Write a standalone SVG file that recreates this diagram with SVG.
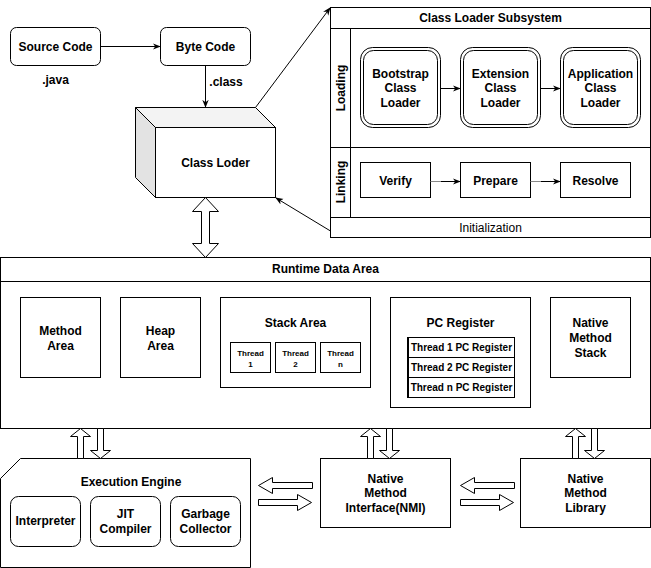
<svg xmlns="http://www.w3.org/2000/svg" width="651" height="568" viewBox="0 0 651 568">
  <defs>
    <marker id="arrow" viewBox="0 0 10 10" refX="9" refY="5" markerWidth="8" markerHeight="8" markerUnits="userSpaceOnUse" orient="auto">
      <path d="M0,1 L10,5 L0,9 L3,5 Z" fill="#000"/>
    </marker>
    <style>
      text { font-family: "Liberation Sans", Arial, Helvetica, sans-serif; font-size: 12px; fill: #000; text-anchor: middle; }
      .b { font-weight: bold; }
      .sm { font-size: 10px; font-weight: bold; }
      .xs { font-size: 8px; font-weight: bold; }
      .box { fill: #fff; stroke: #000; stroke-width: 1; }
      .line { fill: none; stroke: #000; stroke-width: 1; }
      .blk { fill: #fff; stroke: #000; stroke-width: 1; stroke-linejoin: miter; }
    </style>
  </defs>

  <rect width="651" height="568" fill="#fff"/>

  <!-- Source and byte code -->
  <g id="source-code">
    <rect class="box" x="10.5" y="27.5" width="90" height="38" rx="6"/>
    <text class="b" x="55.5" y="51">Source Code</text>
    <text class="b" x="55.5" y="84">.java</text>
  </g>
  <g id="byte-code">
    <rect class="box" x="160.5" y="27.5" width="90" height="38" rx="6"/>
    <text class="b" x="205.5" y="51">Byte Code</text>
  </g>

  <!-- Class loader cube -->
  <g id="class-loder">
    <path d="M135.5,107.5 L255.5,107.5 L275.5,127.5 L155.5,127.5 Z" fill="#f3f3f3" stroke="#000"/>
    <path d="M135.5,107.5 L155.5,127.5 L155.5,197.5 L135.5,177.5 Z" fill="#e3e3e3" stroke="#000"/>
    <rect class="box" x="155.5" y="127.5" width="120" height="70"/>
    <text class="b" x="215.5" y="167">Class Loder</text>
  </g>

  <!-- Class loader subsystem -->
  <g id="class-loader-subsystem">
    <rect class="box" x="330.5" y="7.5" width="320" height="230"/>
    <line class="line" x1="330.5" y1="28.5" x2="650.5" y2="28.5"/>
    <line class="line" x1="330.5" y1="147.5" x2="650.5" y2="147.5"/>
    <line class="line" x1="330.5" y1="217.5" x2="650.5" y2="217.5"/>
    <line class="line" x1="350.5" y1="28.5" x2="350.5" y2="217.5"/>
    <text class="b" x="490.5" y="22">Class Loader Subsystem</text>
    <text class="b" transform="translate(345 88) rotate(-90)">Loading</text>
    <text class="b" transform="translate(345 182) rotate(-90)">Linking</text>
    <text x="490.5" y="232">Initialization</text>
  </g>
  <g id="bootstrap-loader">
    <rect class="box" x="360.5" y="47.5" width="80" height="80" rx="12"/>
    <rect class="box" x="363.5" y="50.5" width="74" height="74" rx="10"/>
    <text class="b" x="400.5" y="78">Bootstrap</text>
    <text class="b" x="400.5" y="92">Class</text>
    <text class="b" x="400.5" y="107">Loader</text>
  </g>
  <g id="extension-loader">
    <rect class="box" x="460.5" y="47.5" width="80" height="80" rx="12"/>
    <rect class="box" x="463.5" y="50.5" width="74" height="74" rx="10"/>
    <text class="b" x="500.5" y="78">Extension</text>
    <text class="b" x="500.5" y="92">Class</text>
    <text class="b" x="500.5" y="107">Loader</text>
  </g>
  <g id="application-loader">
    <rect class="box" x="560.5" y="47.5" width="80" height="80" rx="12"/>
    <rect class="box" x="563.5" y="50.5" width="74" height="74" rx="10"/>
    <text class="b" x="600.5" y="78">Application</text>
    <text class="b" x="600.5" y="92">Class</text>
    <text class="b" x="600.5" y="107">Loader</text>
  </g>
  <g id="verify">
    <rect class="box" x="360.5" y="162.5" width="70" height="35"/>
    <text class="b" x="395.5" y="185">Verify</text>
  </g>
  <g id="prepare">
    <rect class="box" x="460.5" y="162.5" width="70" height="35"/>
    <text class="b" x="495.5" y="185">Prepare</text>
  </g>
  <g id="resolve">
    <rect class="box" x="560.5" y="162.5" width="70" height="35"/>
    <text class="b" x="595.5" y="185">Resolve</text>
  </g>

  <!-- Runtime data area -->
  <g id="runtime-data-area">
    <rect class="box" x="0.5" y="257.5" width="650" height="171"/>
    <line class="line" x1="0.5" y1="281.5" x2="650.5" y2="281.5"/>
    <text class="b" x="325.5" y="273">Runtime Data Area</text>
  </g>
  <g id="method-area">
    <rect class="box" x="20.5" y="297.5" width="80" height="80"/>
    <text class="b" x="60.5" y="335">Method</text>
    <text class="b" x="60.5" y="350">Area</text>
  </g>
  <g id="heap-area">
    <rect class="box" x="120.5" y="297.5" width="80" height="80"/>
    <text class="b" x="160.5" y="335">Heap</text>
    <text class="b" x="160.5" y="350">Area</text>
  </g>
  <g id="stack-area">
    <rect class="box" x="220.5" y="297.5" width="150" height="90"/>
    <text class="b" x="295.5" y="327">Stack Area</text>
    <rect class="box" x="230.5" y="342.5" width="40" height="30"/>
    <text class="xs" x="250.5" y="356">Thread</text>
    <text class="xs" x="250.5" y="367">1</text>
    <rect class="box" x="275.5" y="342.5" width="40" height="30"/>
    <text class="xs" x="295.5" y="356">Thread</text>
    <text class="xs" x="295.5" y="367">2</text>
    <rect class="box" x="320.5" y="342.5" width="40" height="30"/>
    <text class="xs" x="340.5" y="356">Thread</text>
    <text class="xs" x="340.5" y="367">n</text>
  </g>
  <g id="pc-register">
    <rect class="box" x="390.5" y="297.5" width="140" height="110"/>
    <text class="b" x="460.5" y="327">PC Register</text>
    <rect class="box" x="407.5" y="337.5" width="107" height="60"/>
    <line class="line" x1="408.5" y1="337.5" x2="408.5" y2="397.5"/>
    <line class="line" x1="407.5" y1="357.5" x2="514.5" y2="357.5"/>
    <line class="line" x1="407.5" y1="377.5" x2="514.5" y2="377.5"/>
    <text class="sm" x="461.5" y="351">Thread 1 PC Register</text>
    <text class="sm" x="461.5" y="371">Thread 2 PC Register</text>
    <text class="sm" x="461.5" y="391">Thread n PC Register</text>
  </g>
  <g id="native-method-stack">
    <rect class="box" x="550.5" y="297.5" width="80" height="80"/>
    <text class="b" x="590.5" y="327">Native</text>
    <text class="b" x="590.5" y="342">Method</text>
    <text class="b" x="590.5" y="357">Stack</text>
  </g>

  <!-- Execution engine -->
  <g id="execution-engine">
    <path class="box" d="M20.5,458.5 L250.5,458.5 L250.5,567.5 L0.5,567.5 L0.5,478.5 Z"/>
    <text class="b" x="131" y="486">Execution Engine</text>
    <rect class="box" x="10.5" y="496.5" width="70" height="50" rx="8"/>
    <text class="b" x="45.5" y="525">Interpreter</text>
    <rect class="box" x="90.5" y="496.5" width="70" height="50" rx="8"/>
    <text class="b" x="125.5" y="518">JIT</text>
    <text class="b" x="125.5" y="533">Compiler</text>
    <rect class="box" x="170.5" y="496.5" width="70" height="50" rx="8"/>
    <text class="b" x="205.5" y="518">Garbage</text>
    <text class="b" x="205.5" y="533">Collector</text>
  </g>
  <g id="native-method-interface">
    <rect class="box" x="320.5" y="458.5" width="130" height="69"/>
    <text class="b" x="385.5" y="483">Native</text>
    <text class="b" x="385.5" y="497">Method</text>
    <text class="b" x="385.5" y="512">Interface(NMI)</text>
  </g>
  <g id="native-method-library">
    <rect class="box" x="520.5" y="458.5" width="130" height="69"/>
    <text class="b" x="585.5" y="483">Native</text>
    <text class="b" x="585.5" y="497">Method</text>
    <text class="b" x="585.5" y="512">Library</text>
  </g>

  <!-- Connectors -->
  <g id="connectors">
    <line class="line" x1="100.5" y1="46.5" x2="160" y2="46.5" marker-end="url(#arrow)"/>
    <line class="line" x1="205.5" y1="65.5" x2="205.5" y2="107" marker-end="url(#arrow)"/>
    <text class="b" x="226" y="86">.class</text>
    <line class="line" x1="255.5" y1="107.5" x2="330" y2="8" marker-end="url(#arrow)"/>
    <line class="line" x1="330.5" y1="231" x2="276" y2="198" marker-end="url(#arrow)"/>
    <line class="line" x1="440.5" y1="88.5" x2="460" y2="88.5" marker-end="url(#arrow)"/>
    <line class="line" x1="540.5" y1="88.5" x2="560" y2="88.5" marker-end="url(#arrow)"/>
    <line x1="430.5" y1="181.5" x2="441" y2="181.5" stroke="#888"/>
    <line class="line" x1="441" y1="181.5" x2="460" y2="181.5" marker-end="url(#arrow)"/>
    <line x1="530.5" y1="181.5" x2="541" y2="181.5" stroke="#888"/>
    <line class="line" x1="541" y1="181.5" x2="560" y2="181.5" marker-end="url(#arrow)"/>

    <!-- class loader to runtime data area -->
    <path class="blk" d="M205.5,197.5 L218.5,211.5 L209.5,211.5 L209.5,243.5 L218.5,243.5 L205.5,257.5 L192.5,243.5 L201.5,243.5 L201.5,211.5 L192.5,211.5 Z"/>

    <!-- runtime data area to execution engine -->
    <path class="blk" d="M80.5,428.5 L90.5,436.5 L83.5,436.5 L83.5,458.5 L77.5,458.5 L77.5,436.5 L70.5,436.5 Z"/>
    <path class="blk" d="M100.5,458.5 L110.5,450.5 L103.5,450.5 L103.5,428.5 L97.5,428.5 L97.5,450.5 L90.5,450.5 Z"/>
    <!-- runtime data area to native method interface -->
    <path class="blk" d="M370.5,428.5 L380.5,436.5 L373.5,436.5 L373.5,458.5 L367.5,458.5 L367.5,436.5 L360.5,436.5 Z"/>
    <path class="blk" d="M389.5,458.5 L399.5,450.5 L392.5,450.5 L392.5,428.5 L386.5,428.5 L386.5,450.5 L379.5,450.5 Z"/>
    <!-- runtime data area to native method library -->
    <path class="blk" d="M575.5,428.5 L585.5,436.5 L578.5,436.5 L578.5,458.5 L572.5,458.5 L572.5,436.5 L565.5,436.5 Z"/>
    <path class="blk" d="M594.5,458.5 L604.5,450.5 L597.5,450.5 L597.5,428.5 L591.5,428.5 L591.5,450.5 L584.5,450.5 Z"/>

    <!-- execution engine and native method interface -->
    <path class="blk" d="M258.5,485.5 L272.5,477.5 L272.5,482.5 L312.5,482.5 L312.5,488.5 L272.5,488.5 L272.5,493.5 Z"/>
    <path class="blk" d="M311.5,502.5 L297.5,494.5 L297.5,499.5 L258.5,499.5 L258.5,505.5 L297.5,505.5 L297.5,510.5 Z"/>
    <!-- native method interface and library -->
    <path class="blk" d="M460.5,485.5 L474.5,477.5 L474.5,482.5 L514.5,482.5 L514.5,488.5 L474.5,488.5 L474.5,493.5 Z"/>
    <path class="blk" d="M513.5,502.5 L499.5,494.5 L499.5,499.5 L460.5,499.5 L460.5,505.5 L499.5,505.5 L499.5,510.5 Z"/>
  </g>
</svg>
